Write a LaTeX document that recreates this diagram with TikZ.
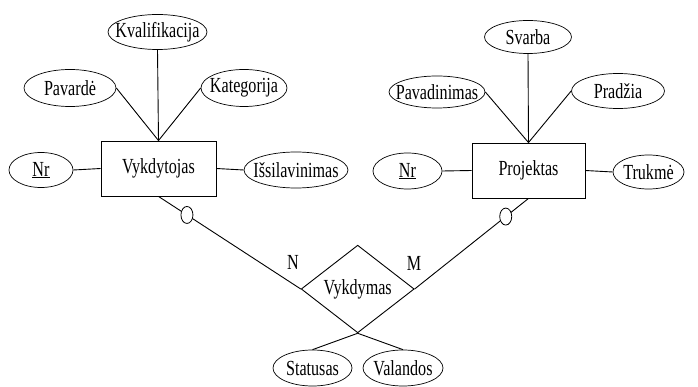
\documentclass[tikz,border=0pt]{standalone}
\usepackage{fontspec}
\setmainfont{Liberation Serif}[FakeStretch=0.75]
\usetikzlibrary{shapes.geometric}
\newcommand\ertext[1]{\makebox[0pt]{#1}}
\tikzset{
        erfont/.style={font=\fontsize{21.5}{25}\selectfont},
        attr/.style={ellipse,draw,line width=0.7pt,inner sep=0pt,erfont},
        entity/.style={rectangle,draw,line width=0.9pt,inner sep=0pt,
                minimum width=115pt,minimum height=55pt,erfont},
        rel/.style={diamond,draw,line width=0.9pt,inner sep=0pt,
                minimum width=113pt,minimum height=76pt,erfont},
        optional/.style={ellipse,draw,fill=white,line width=0.8pt,inner sep=0pt,
                minimum width=12pt,minimum height=17pt},
        link/.style={line width=0.9pt},
}
\begin{document}
\begin{tikzpicture}[x=1pt,y=-1pt]
        \useasboundingbox (0,0) rectangle (698,387);
        % Vykdytojas
        \node[entity] (vyk) at (158.5,168.5) {Vykdytojas};
        \node[attr,minimum width=99pt,minimum height=35pt] (kval) at (157.5,32) {\ertext{Kvalifikacija}};
        \node[attr,minimum width=92pt,minimum height=37pt] (pav) at (70,88) {\ertext{Pavardė}};
        \node[attr,minimum width=86pt,minimum height=37pt] (kat) at (244,88) {\ertext{Kategorija}};
        \node[attr,minimum width=64pt,minimum height=35pt] (nrA) at (41,170) {\ertext{\underline{Nr}}};
        \node[attr,minimum width=104pt,minimum height=36pt] (issi) at (296,170) {\ertext{Išsilavinimas}};
        \draw[link] (kval.south) -- (vyk.north);
        \draw[link] (pav.east) -- (vyk.north);
        \draw[link] (kat.west) -- (vyk.north);
        \draw[link] (nrA.east) -- (vyk.west);
        \draw[link] (issi.west) -- (vyk.east);
        % Projektas
        \node[entity,minimum width=113pt] (proj) at (528.5,170.5) {Projektas};
        \node[attr,minimum width=87pt,minimum height=33pt] (svarba) at (528,37) {\ertext{Svarba}};
        \node[attr,minimum width=96pt,minimum height=32pt] (pavad) at (437,92) {\ertext{Pavadinimas}};
        \node[attr,minimum width=93pt,minimum height=35pt] (prad) at (618,91) {\ertext{Pradžia}};
        \node[attr,minimum width=69pt,minimum height=36pt] (nrB) at (407.5,171) {\ertext{\underline{Nr}}};
        \node[attr,minimum width=71pt,minimum height=34pt] (truk) at (648.5,172) {\ertext{Trukmė}};
        \draw[link] (svarba.south) -- (proj.north);
        \draw[link] (pavad.east) -- (proj.north);
        \draw[link] (prad.west) -- (proj.north);
        \draw[link] (nrB.east) -- (proj.west);
        \draw[link] (truk.west) -- (proj.east);
        % Vykdymas
        \node[rel] (vykd) at (357.7,289) {Vykdymas};
        \node[erfont] (n) at (293,262) {N};
        \node[erfont] (m) at (414,263) {M};
        \draw[link] (vyk.south) -- node[optional,pos=0.2] (optA) {} (vykd.west);
        \draw[link] (proj.south) -- node[optional,pos=0.2] (optB) {} (vykd.east);
        \node[attr,minimum width=79pt,minimum height=36pt] (stat) at (312.5,368) {\ertext{Statusas}};
        \node[attr,minimum width=80pt,minimum height=36pt] (val) at (403,368) {\ertext{Valandos}};
        \draw[link] (vykd.south) -- (stat.north);
        \draw[link] (vykd.south) -- (val.north);
\end{tikzpicture}
\end{document}
